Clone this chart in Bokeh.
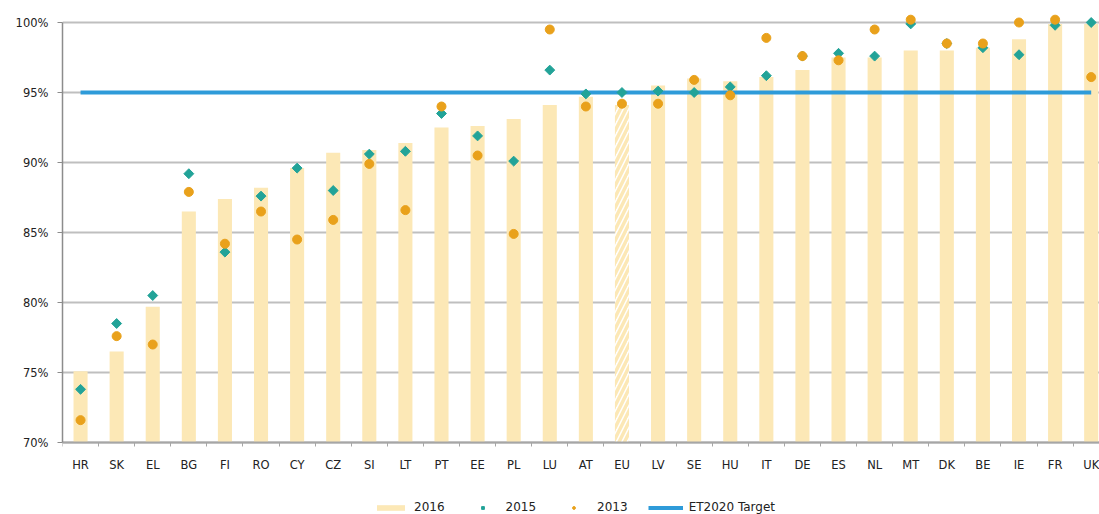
import numpy as np
from bokeh.plotting import figure
from bokeh.models import (ColumnDataSource, FixedTicker, PrintfTickFormatter, Legend,
                          LegendItem, Range1d, LinearAxis)
from bokeh.embed import file_html
from bokeh.resources import INLINE

categories = ["HR", "SK", "EL", "BG", "FI", "RO", "CY", "CZ", "SI", "LT", "PT", "EE", "PL", "LU",
              "AT", "EU", "LV", "SE", "HU", "IT", "DE", "ES", "NL", "MT", "DK", "BE", "IE", "FR", "UK"]
values_2016 = [75.1, 76.5, 79.7, 86.5, 87.4, 88.2, 89.6, 90.7, 90.9, 91.4, 92.5, 92.6, 93.1, 94.1,
               94.7, 94.1, 95.5, 96.0, 95.8, 96.1, 96.6, 97.5, 97.5, 98.0, 98.0, 98.2, 98.8, 99.9, 99.9]
values_2015 = [73.8, 78.5, 80.5, 89.2, 83.6, 87.6, 89.6, 88.0, 90.6, 90.8, 93.5, 91.9, 90.1, 96.6,
               94.9, 95.0, 95.1, 95.0, 95.4, 96.2, 97.6, 97.8, 97.6, 99.9, 98.5, 98.2, 97.7, 99.8, 100.0]
values_2013 = [71.6, 77.6, 77.0, 87.9, 84.2, 86.5, 84.5, 85.9, 89.9, 86.6, 94.0, 90.5, 84.9, 99.5,
               94.0, 94.2, 94.2, 95.9, 94.8, 98.9, 97.6, 97.3, 99.5, 100.2, 98.5, 98.5, 100.0, 100.2, 96.1]
target = 95.0
y_ticks = [70, 75, 80, 85, 90, 95, 100]

CREAM = "#FCE8B6"
TEAL = "#22A398"
ORANGE = "#E9A11B"
BLUE = "#2E9BD9"
FONT = "DejaVu Sans"

n = len(categories)
xs = list(range(n))
is_eu = [c == "EU" for c in categories]
y_min, y_max = y_ticks[0], y_ticks[-1]

src = ColumnDataSource(dict(
    x=xs, cat=categories, v16=values_2016, v15=values_2015, v13=values_2013,
    fill=["#FFFFFF" if e else CREAM for e in is_eu],
    hatch=["/" if e else " " for e in is_eu],
))

# frame spans the full lower area so the category labels and legend sit inside it
p = figure(width=1099, height=514, output_backend="svg", toolbar_location=None,
           x_range=Range1d(-0.5, 28.23), y_range=Range1d(64.86, 101),
           x_axis_location=None,
           min_border_left=62, min_border_right=0, min_border_top=8, min_border_bottom=0)
p.outline_line_color = None
p.background_fill_color = "white"

bars = p.vbar(x="x", top="v16", bottom=y_min, width=0.39, source=src,
              fill_color="fill", line_color=None,
              hatch_pattern="hatch", hatch_color=CREAM, hatch_weight=3.5, hatch_scale=11)

tline = p.line(x=[xs[0], xs[-1]], y=[target, target], line_color=BLUE, line_width=4)

d15 = p.scatter(x="x", y="v15", source=src, marker="square", angle=np.pi / 4, size=7,
                fill_color=TEAL, line_color=TEAL)
c13 = p.scatter(x="x", y="v13", source=src, marker="circle", size=9,
                fill_color=ORANGE, line_color=ORANGE)

# y axis
p.yaxis.ticker = FixedTicker(ticks=y_ticks)
p.yaxis.formatter = PrintfTickFormatter(format="%d%%")
p.yaxis.bounds = (y_min, y_max)
p.yaxis.axis_line_color = "#8C8C8C"
p.yaxis.axis_line_width = 1.5
p.yaxis.major_tick_line_color = "#8C8C8C"
p.yaxis.major_tick_out = 5
p.yaxis.major_tick_in = 0
p.yaxis.minor_tick_line_color = None
p.yaxis.major_label_standoff = 9
p.yaxis.major_label_text_font = FONT
p.yaxis.major_label_text_font_size = "11.5px"
p.yaxis.major_label_text_color = "#222222"

# x axis fixed at the 70% baseline
xax = LinearAxis(fixed_location=y_min)
xax.ticker = FixedTicker(ticks=xs, minor_ticks=[i - 0.5 for i in range(n + 1)])
xax.major_label_overrides = {i: c for i, c in enumerate(categories)}
xax.bounds = (-0.5, n - 0.5)
xax.axis_line_color = "#A6A6A6"
xax.axis_line_width = 2
xax.major_tick_line_color = None
xax.major_tick_out = 4
xax.major_tick_in = 0
xax.minor_tick_line_color = "#A6A6A6"
xax.minor_tick_out = 4
xax.minor_tick_in = 0
xax.major_label_standoff = 11
xax.major_label_text_font = FONT
xax.major_label_text_font_size = "11.5px"
xax.major_label_text_color = "#222222"
p.add_layout(xax, "below")

p.xgrid.grid_line_color = None
p.ygrid.ticker = FixedTicker(ticks=y_ticks)
p.ygrid.grid_line_color = "#BFBFBF"
p.ygrid.grid_line_width = 2

legend = Legend(items=[
    LegendItem(label="2016", renderers=[bars], index=0),
    LegendItem(label="2015", renderers=[d15], index=0),
    LegendItem(label="2013", renderers=[c13], index=0),
    LegendItem(label="ET2020 Target", renderers=[tline]),
], orientation="horizontal", location=(311, 0), margin=0, padding=0,
    spacing=20, glyph_width=35, glyph_height=7, label_height=12, label_standoff=6,
    label_text_font=FONT, label_text_font_size="12px", label_text_color="#222222",
    border_line_color=None, background_fill_alpha=0)
p.add_layout(legend, "center")

open("out.html", "w").write(file_html(p, INLINE))
